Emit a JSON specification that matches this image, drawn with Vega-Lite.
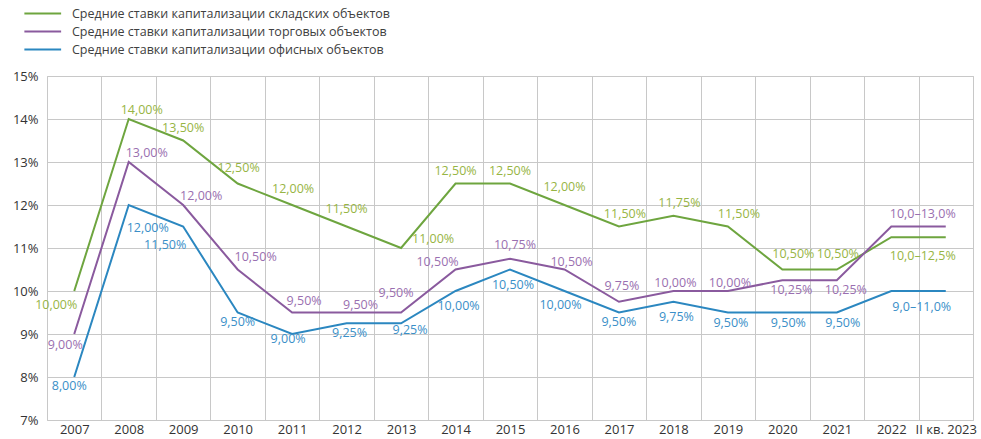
{
  "$schema": "https://vega.github.io/schema/vega-lite/v6.json",
  "width": 926,
  "height": 344,
  "autosize": {"type": "none"},
  "padding": {"left": 47, "top": 76, "right": 8, "bottom": 19},
  "background": "white",
  "config": {
    "font": "Open Sans",
    "text": {"fontSize": 12.5},
    "view": {"stroke": "#c8c8c8", "strokeWidth": 1},
    "axis": {"labelFont": "Open Sans", "labelColor": "#333333", "labelFontSize": 13, "gridColor": "#c8c8c8", "gridWidth": 1, "domain": false, "ticks": false, "title": null}
  },
  "data": {
    "values": [
      {"year": "2007", "series": "Средние ставки капитализации складских объектов", "value": 10, "label": "10,00%"},
      {"year": "2008", "series": "Средние ставки капитализации складских объектов", "value": 14, "label": "14,00%"},
      {"year": "2009", "series": "Средние ставки капитализации складских объектов", "value": 13.5, "label": "13,50%"},
      {"year": "2010", "series": "Средние ставки капитализации складских объектов", "value": 12.5, "label": "12,50%"},
      {"year": "2011", "series": "Средние ставки капитализации складских объектов", "value": 12, "label": "12,00%"},
      {"year": "2012", "series": "Средние ставки капитализации складских объектов", "value": 11.5, "label": "11,50%"},
      {"year": "2013", "series": "Средние ставки капитализации складских объектов", "value": 11, "label": "11,00%"},
      {"year": "2014", "series": "Средние ставки капитализации складских объектов", "value": 12.5, "label": "12,50%"},
      {"year": "2015", "series": "Средние ставки капитализации складских объектов", "value": 12.5, "label": "12,50%"},
      {"year": "2016", "series": "Средние ставки капитализации складских объектов", "value": 12, "label": "12,00%"},
      {"year": "2017", "series": "Средние ставки капитализации складских объектов", "value": 11.5, "label": "11,50%"},
      {"year": "2018", "series": "Средние ставки капитализации складских объектов", "value": 11.75, "label": "11,75%"},
      {"year": "2019", "series": "Средние ставки капитализации складских объектов", "value": 11.5, "label": "11,50%"},
      {"year": "2020", "series": "Средние ставки капитализации складских объектов", "value": 10.5, "label": "10,50%"},
      {"year": "2021", "series": "Средние ставки капитализации складских объектов", "value": 10.5, "label": "10,50%"},
      {"year": "2022", "series": "Средние ставки капитализации складских объектов", "value": 11.25, "label": ""},
      {"year": "II кв. 2023", "series": "Средние ставки капитализации складских объектов", "value": 11.25, "label": "10,0–12,5%"},
      {"year": "2007", "series": "Средние ставки капитализации торговых объектов", "value": 9, "label": "9,00%"},
      {"year": "2008", "series": "Средние ставки капитализации торговых объектов", "value": 13, "label": "13,00%"},
      {"year": "2009", "series": "Средние ставки капитализации торговых объектов", "value": 12, "label": "12,00%"},
      {"year": "2010", "series": "Средние ставки капитализации торговых объектов", "value": 10.5, "label": "10,50%"},
      {"year": "2011", "series": "Средние ставки капитализации торговых объектов", "value": 9.5, "label": "9,50%"},
      {"year": "2012", "series": "Средние ставки капитализации торговых объектов", "value": 9.5, "label": "9,50%"},
      {"year": "2013", "series": "Средние ставки капитализации торговых объектов", "value": 9.5, "label": "9,50%"},
      {"year": "2014", "series": "Средние ставки капитализации торговых объектов", "value": 10.5, "label": "10,50%"},
      {"year": "2015", "series": "Средние ставки капитализации торговых объектов", "value": 10.75, "label": "10,75%"},
      {"year": "2016", "series": "Средние ставки капитализации торговых объектов", "value": 10.5, "label": "10,50%"},
      {"year": "2017", "series": "Средние ставки капитализации торговых объектов", "value": 9.75, "label": "9,75%"},
      {"year": "2018", "series": "Средние ставки капитализации торговых объектов", "value": 10, "label": "10,00%"},
      {"year": "2019", "series": "Средние ставки капитализации торговых объектов", "value": 10, "label": "10,00%"},
      {"year": "2020", "series": "Средние ставки капитализации торговых объектов", "value": 10.25, "label": "10,25%"},
      {"year": "2021", "series": "Средние ставки капитализации торговых объектов", "value": 10.25, "label": "10,25%"},
      {"year": "2022", "series": "Средние ставки капитализации торговых объектов", "value": 11.5, "label": ""},
      {"year": "II кв. 2023", "series": "Средние ставки капитализации торговых объектов", "value": 11.5, "label": "10,0–13,0%"},
      {"year": "2007", "series": "Средние ставки капитализации офисных объектов", "value": 8, "label": "8,00%"},
      {"year": "2008", "series": "Средние ставки капитализации офисных объектов", "value": 12, "label": "12,00%"},
      {"year": "2009", "series": "Средние ставки капитализации офисных объектов", "value": 11.5, "label": "11,50%"},
      {"year": "2010", "series": "Средние ставки капитализации офисных объектов", "value": 9.5, "label": "9,50%"},
      {"year": "2011", "series": "Средние ставки капитализации офисных объектов", "value": 9, "label": "9,00%"},
      {"year": "2012", "series": "Средние ставки капитализации офисных объектов", "value": 9.25, "label": "9,25%"},
      {"year": "2013", "series": "Средние ставки капитализации офисных объектов", "value": 9.25, "label": "9,25%"},
      {"year": "2014", "series": "Средние ставки капитализации офисных объектов", "value": 10, "label": "10,00%"},
      {"year": "2015", "series": "Средние ставки капитализации офисных объектов", "value": 10.5, "label": "10,50%"},
      {"year": "2016", "series": "Средние ставки капитализации офисных объектов", "value": 10, "label": "10,00%"},
      {"year": "2017", "series": "Средние ставки капитализации офисных объектов", "value": 9.5, "label": "9,50%"},
      {"year": "2018", "series": "Средние ставки капитализации офисных объектов", "value": 9.75, "label": "9,75%"},
      {"year": "2019", "series": "Средние ставки капитализации офисных объектов", "value": 9.5, "label": "9,50%"},
      {"year": "2020", "series": "Средние ставки капитализации офисных объектов", "value": 9.5, "label": "9,50%"},
      {"year": "2021", "series": "Средние ставки капитализации офисных объектов", "value": 9.5, "label": "9,50%"},
      {"year": "2022", "series": "Средние ставки капитализации офисных объектов", "value": 10, "label": ""},
      {"year": "II кв. 2023", "series": "Средние ставки капитализации офисных объектов", "value": 10, "label": "9,0–11,0%"}
    ]
  },
  "encoding": {
    "x": {"field": "year", "type": "ordinal", "sort": null, "scale": {"paddingInner": 0, "paddingOuter": 0}, "axis": {"labelAngle": 0, "tickBand": "extent", "grid": true, "labelPadding": 3}},
    "y": {"field": "value", "type": "quantitative", "scale": {"domain": [7, 15], "nice": false, "zero": false}, "axis": {"values": [7, 8, 9, 10, 11, 12, 13, 14, 15], "labelExpr": "datum.value + '%'", "labelPadding": 9}}
  },
  "layer": [
    {
      "mark": {"type": "line", "strokeWidth": 2},
      "encoding": {
        "color": {"field": "series", "type": "nominal", "sort": null,
          "scale": {"domain": ["Средние ставки капитализации складских объектов", "Средние ставки капитализации торговых объектов", "Средние ставки капитализации офисных объектов"], "range": ["#6ea53f", "#8a5a9e", "#2b87c0"]},
          "legend": {"title": null, "orient": "none", "legendX": -24, "legendY": -70, "symbolType": "M-1,0H5", "symbolSize": 150, "symbolStrokeWidth": 2, "labelFont": "Open Sans", "labelFontSize": 12.5, "labelColor": "#404040", "labelOffset": 34, "labelLimit": 0, "rowPadding": 4, "padding": 0}
        }
      }
    },
    {
      "encoding": {
        "text": {"field": "label", "type": "nominal"},
        "fill": {"field": "series", "type": "nominal", "scale": {"domain": ["Средние ставки капитализации складских объектов", "Средние ставки капитализации торговых объектов", "Средние ставки капитализации офисных объектов"], "range": ["#97b544", "#9a6fb0", "#3a8fc8"]}, "legend": null}
      },
      "layer": [
        {
          "transform": [{"filter": {"field": "series", "equal": "Средние ставки капитализации складских объектов"}}],
          "layer": [
            {"transform": [{"filter": {"field": "year", "oneOf": ["2007"]}}], "mark": {"type": "text", "dx": -18, "dy": 14}},
            {"transform": [{"filter": {"field": "year", "oneOf": ["2008"]}}], "mark": {"type": "text", "dx": 13, "dy": -9}},
            {"transform": [{"filter": {"field": "year", "oneOf": ["2009", "2014", "2015"]}}], "mark": {"type": "text", "dx": 0, "dy": -13}},
            {"transform": [{"filter": {"field": "year", "oneOf": ["2010", "2011", "2021"]}}], "mark": {"type": "text", "dx": 1, "dy": -16}},
            {"transform": [{"filter": {"field": "year", "oneOf": ["2012", "2016"]}}], "mark": {"type": "text", "dx": 0, "dy": -18}},
            {"transform": [{"filter": {"field": "year", "oneOf": ["2013"]}}], "mark": {"type": "text", "dx": 32, "dy": -9}},
            {"transform": [{"filter": {"field": "year", "oneOf": ["2017", "2018"]}}], "mark": {"type": "text", "dx": 6, "dy": -13}},
            {"transform": [{"filter": {"field": "year", "oneOf": ["2019"]}}], "mark": {"type": "text", "dx": 11, "dy": -13}},
            {"transform": [{"filter": {"field": "year", "oneOf": ["2020"]}}], "mark": {"type": "text", "dx": 11, "dy": -16}},
            {"transform": [{"filter": {"field": "year", "oneOf": ["II кв. 2023"]}}], "mark": {"type": "text", "dx": -23, "dy": 19}}
          ]
        },
        {
          "transform": [{"filter": {"field": "series", "equal": "Средние ставки капитализации торговых объектов"}}],
          "layer": [
            {"transform": [{"filter": {"field": "year", "oneOf": ["2007"]}}], "mark": {"type": "text", "dx": -9, "dy": 11}},
            {"transform": [{"filter": {"field": "year", "oneOf": ["2008", "2009"]}}], "mark": {"type": "text", "dx": 18, "dy": -9}},
            {"transform": [{"filter": {"field": "year", "oneOf": ["2010"]}}], "mark": {"type": "text", "dx": 18, "dy": -13}},
            {"transform": [{"filter": {"field": "year", "oneOf": ["2011"]}}], "mark": {"type": "text", "dx": 12, "dy": -12}},
            {"transform": [{"filter": {"field": "year", "oneOf": ["2012"]}}], "mark": {"type": "text", "dx": 14, "dy": -8}},
            {"transform": [{"filter": {"field": "year", "oneOf": ["2013"]}}], "mark": {"type": "text", "dx": -5, "dy": -20}},
            {"transform": [{"filter": {"field": "year", "oneOf": ["2014"]}}], "mark": {"type": "text", "dx": -18, "dy": -8}},
            {"transform": [{"filter": {"field": "year", "oneOf": ["2015"]}}], "mark": {"type": "text", "dx": 5, "dy": -14}},
            {"transform": [{"filter": {"field": "year", "oneOf": ["2016"]}}], "mark": {"type": "text", "dx": 7, "dy": -8}},
            {"transform": [{"filter": {"field": "year", "oneOf": ["2017"]}}], "mark": {"type": "text", "dx": 3, "dy": -16}},
            {"transform": [{"filter": {"field": "year", "oneOf": ["2018", "2019"]}}], "mark": {"type": "text", "dx": 2, "dy": -8}},
            {"transform": [{"filter": {"field": "year", "oneOf": ["2020", "2021"]}}], "mark": {"type": "text", "dx": 9, "dy": 10}},
            {"transform": [{"filter": {"field": "year", "oneOf": ["II кв. 2023"]}}], "mark": {"type": "text", "dx": -23, "dy": -13}}
          ]
        },
        {
          "transform": [{"filter": {"field": "series", "equal": "Средние ставки капитализации офисных объектов"}}],
          "layer": [
            {"transform": [{"filter": {"field": "year", "oneOf": ["2007"]}}], "mark": {"type": "text", "dx": -5, "dy": 9}},
            {"transform": [{"filter": {"field": "year", "oneOf": ["2008"]}}], "mark": {"type": "text", "dx": 19, "dy": 23}},
            {"transform": [{"filter": {"field": "year", "oneOf": ["2009"]}}], "mark": {"type": "text", "dx": -18, "dy": 18}},
            {"transform": [{"filter": {"field": "year", "oneOf": ["2010", "2017"]}}], "mark": {"type": "text", "dx": 0, "dy": 9}},
            {"transform": [{"filter": {"field": "year", "oneOf": ["2011"]}}], "mark": {"type": "text", "dx": -4, "dy": 5}},
            {"transform": [{"filter": {"field": "year", "oneOf": ["2012", "2019"]}}], "mark": {"type": "text", "dx": 3, "dy": 10}},
            {"transform": [{"filter": {"field": "year", "oneOf": ["2013"]}}], "mark": {"type": "text", "dx": 9, "dy": 7}},
            {"transform": [{"filter": {"field": "year", "oneOf": ["2014", "2015", "2018"]}}], "mark": {"type": "text", "dx": 3, "dy": 15}},
            {"transform": [{"filter": {"field": "year", "oneOf": ["2016"]}}], "mark": {"type": "text", "dx": -4, "dy": 14}},
            {"transform": [{"filter": {"field": "year", "oneOf": ["2020", "2021"]}}], "mark": {"type": "text", "dx": 6, "dy": 10}},
            {"transform": [{"filter": {"field": "year", "oneOf": ["II кв. 2023"]}}], "mark": {"type": "text", "dx": -24, "dy": 16}}
          ]
        }
      ]
    }
  ]
}
